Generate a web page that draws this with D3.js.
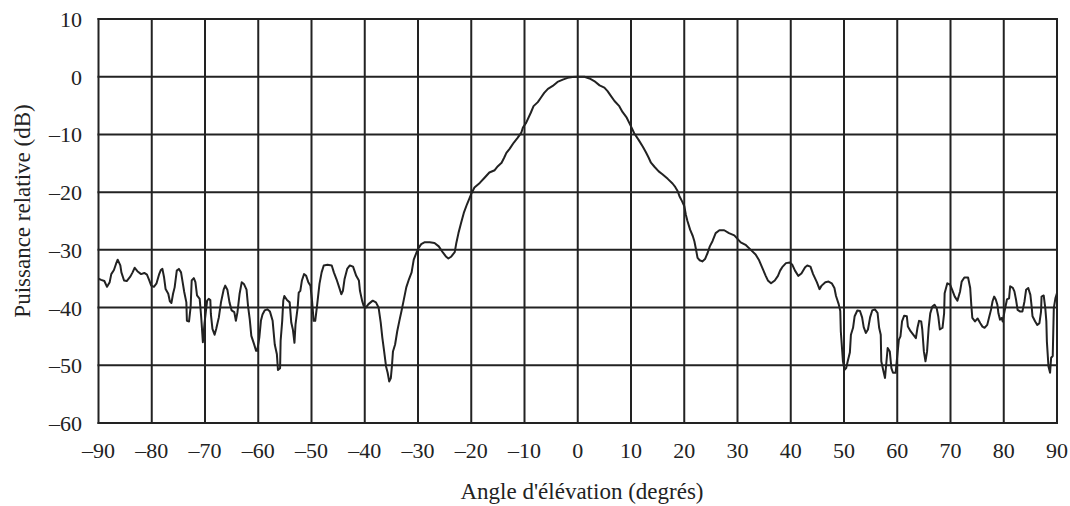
<!DOCTYPE html>
<html>
<head>
<meta charset="utf-8">
<script src="https://cdn.jsdelivr.net/npm/d3@7"></script>
<style>
    body { margin: 0; background: #fff; }
    text { font-family: "Liberation Serif", "Times New Roman", serif; fill: #222; }
</style>
</head>
<body>
<div id="chart"></div>
<script>
// angles (degrees)
var angle = [
  -90, -89.5, -88.9, -88.4, -87.9, -87.6, -87.1, -86.7, -86.4, -85.9, -85.7, -85.2, -84.7, -84.0, -83.6, -83.2,
  -82.7, -82.0, -81.4, -80.9, -80.5, -80.1, -79.6, -79.1, -78.6, -78.3, -78.0, -77.7, -77.4, -76.9, -76.6, -76.3,
  -76.0, -75.7, -75.3, -74.9, -74.5, -74.2, -73.9, -73.5, -73.4, -73.0, -72.7, -72.5, -72.1, -71.8, -71.5, -71.0,
  -70.7, -70.4, -70.1, -69.6, -69.3, -69.0, -68.9, -68.6, -68.2, -67.9, -67.4, -67.0, -66.5, -66.2, -65.8, -65.4,
  -65.0, -64.5, -64.2, -63.9, -63.5, -63.1, -62.7, -62.2, -61.9, -61.6, -61.3, -60.8, -60.4, -60.2,
  -59.8, -59.5, -59.2, -58.8, -58.3, -57.8, -57.3, -56.9, -56.5, -56.3, -55.9, -55.8, -55.5, -55.3, -55.1, -54.6,
  -54.1, -53.8, -53.5, -53.2, -53.0, -52.6, -52.4, -52.1, -51.8, -51.4, -51.0, -50.6, -50.2, -49.9, -49.6, -49.3,
  -49.0, -48.5, -48.1, -47.7, -47.0, -46.2, -45.8, -45.3, -44.8, -44.4, -44.1, -43.8, -43.3, -42.8, -42.2, -41.6,
  -41.1, -40.9, -40.5, -40.2, -39.8, -39.3, -38.5, -37.9, -37.4, -37.0, -36.7, -36.4, -36.0, -35.7, -35.4, -35.1,
  -34.9, -34.7, -34.3, -33.9, -33.5, -33.1, -32.7, -32.2, -31.7, -31.2,
  -30.8, -30.3, -29.9, -29.4, -28.8, -27.8, -26.9, -26.1, -25.3, -24.7, -24.3, -23.8, -23.1, -22.8, -22.4, -21.9,
  -21.4, -20.8, -20.3, -19.9, -19.4, -18.4, -17.5, -16.6, -15.6, -15.0, -14.3, -13.8, -13.4, -12.8, -12.0, -11.3,
  -10.6, -10.3, -9.7, -8.8, -8.3, -7.5, -6.9, -6.3, -5.6, -4.7, -3.8, -2.8, -1.9, -1.0,
  0, 1.25, 2.2, 3.1, 4.1, 5.0, 5.6, 6.25, 6.9, 7.8, 8.4, 9.2, 10.0, 10.6, 11.4, 12.2,
  12.8, 13.3, 13.75, 14.4, 15.2, 15.9, 16.9, 17.8, 18.3, 18.75, 19.1, 19.6, 20.0, 20.3, 20.6, 21.1,
  21.6, 21.9, 22.2, 22.5, 22.9, 23.4, 23.9, 24.4, 24.8, 25.3, 25.9, 26.6, 27.5, 28.4, 29.4,
  30.6, 31.6, 32.5, 33.4, 34.0, 34.6, 35.3, 35.7, 36.3, 37.0, 37.6, 38.0, 38.4, 39.1, 39.8, 40.3,
  40.8, 41.4, 42.0, 42.7, 43.1, 43.7, 44.2, 44.9, 45.4, 45.8, 46.5, 47.1, 47.7, 48.2, 48.5, 49.0,
  49.3, 49.4, 49.8, 50.1, 50.4, 50.7, 51.1, 51.3, 51.7, 52.0, 52.5, 53.0, 53.4, 53.7, 54.1, 54.5,
  54.9, 55.3, 55.8, 56.3, 56.6, 56.9, 57.0, 57.4, 57.7,
  58.2, 58.6, 58.9, 59.2, 59.7, 60.0, 60.3, 60.6, 60.9, 61.3, 61.8, 62.0, 62.5, 63.0, 63.5, 63.8,
  64.1, 64.5, 64.7, 65.0, 65.3, 65.6, 65.9, 66.2, 66.6, 67.0, 67.4, 67.7, 68.0, 68.5, 68.8, 68.9,
  69.4, 69.9, 70.3, 70.8, 71.3, 71.8, 72.1, 72.6, 73.3, 73.7, 73.9, 74.1, 74.6, 75.1, 75.6, 76.0,
  76.4, 76.9, 77.3, 77.6, 77.9, 78.2, 78.5, 78.8, 79.0, 79.3, 79.6, 79.8, 80.2, 80.6, 81.0, 81.2,
  81.7, 82.0, 82.3, 82.6, 83.1, 83.5, 83.9, 84.2, 84.6, 85.0, 85.2, 85.4, 85.9, 86.3, 86.7, 87.0,
  87.1, 87.5, 87.8, 88.0, 88.1, 88.4, 88.7, 88.9, 89.2, 89.4, 89.7, 90.0
];

// relative power (dB), same order as angle
var power = [
  -35.0, -35.2, -35.4, -36.4, -35.6, -34.2, -33.5, -32.4, -31.7, -32.7, -33.9, -35.3, -35.4, -34.6, -33.9, -33.1,
  -33.7, -34.2, -34.0, -34.3, -35.2, -36.2, -36.4, -35.8, -34.2, -33.5, -33.3, -34.7, -36.8, -37.6, -38.9, -39.2,
  -37.6, -36.5, -33.6, -33.3, -33.9, -35.6, -37.3, -39.1, -42.3, -42.4, -39.9, -35.3, -34.9, -35.6, -37.9, -38.5,
  -41.8, -46.0, -42.8, -38.8, -38.5, -38.7, -41.1, -43.7, -44.7, -43.7, -41.7, -39.1, -36.9, -36.2, -36.9, -39.1,
  -40.5, -40.8, -42.3, -40.8, -37.6, -35.6, -35.9, -36.9, -39.9, -42.0, -44.9, -46.3, -47.5, -47.5,
  -45.2, -42.3, -41.2, -40.5, -40.3, -40.7, -42.3, -46.4, -48.1, -50.8, -50.5, -45.8, -42.3, -38.8, -38.0, -38.7,
  -39.1, -42.6, -43.8, -46.1, -42.9, -40.0, -37.4, -37.1, -35.3, -34.2, -34.5, -35.6, -36.2, -38.8, -42.3, -42.3,
  -40.0, -35.9, -33.9, -32.7, -32.6, -32.7, -33.9, -35.1, -36.5, -37.7, -37.1, -35.1, -33.3, -32.7, -32.9, -34.5,
  -35.3, -37.1, -38.8, -39.7, -40.0, -39.4, -38.8, -39.1, -40.0, -42.6, -45.2, -47.3, -50.2, -51.3, -52.8, -52.2,
  -50.2, -47.6, -46.4, -44.1, -42.3, -40.6, -38.8, -36.5, -35.1, -33.9,
  -31.7, -30.5, -29.7, -29.0, -28.7, -28.7, -28.8, -29.4, -30.5, -31.2, -31.5, -31.2, -30.4, -28.8, -27.1, -25.3,
  -23.6, -22.1, -21.0, -20.1, -19.2, -18.4, -17.5, -16.6, -16.2, -15.5, -14.9, -14.0, -13.2, -12.5, -11.4, -10.6,
  -9.7, -8.8, -8.0, -6.2, -5.1, -4.4, -3.6, -2.8, -2.1, -1.6, -0.9, -0.5, -0.2, -0.05,
  0, 0, -0.3, -0.75, -1.5, -1.9, -2.5, -3.35, -4.2, -5.1, -6.1, -7.1, -8.6, -9.8, -10.9, -12.1,
  -13.1, -14.0, -14.9, -15.6, -16.4, -16.9, -17.7, -18.5, -19.1, -19.8, -20.7, -21.6, -22.4, -23.9, -25.0, -26.5,
  -27.6, -28.5, -29.9, -31.4, -31.8, -32.0, -31.6, -30.5, -29.4, -28.5, -27.1, -26.6, -26.6, -27.1, -27.5,
  -28.7, -29.2, -30.0, -30.8, -31.7, -33.0, -34.5, -35.3, -35.8, -35.3, -34.5, -33.6, -33.0, -32.3, -32.2, -32.6,
  -33.6, -34.5, -34.1, -33.0, -32.7, -32.9, -34.2, -35.6, -36.8, -36.2, -35.6, -35.5, -35.8, -36.6, -38.0, -39.4,
  -40.6, -44.1, -49.3, -50.8, -50.5, -49.3, -47.8, -44.7, -43.5, -41.5, -40.5, -40.6, -41.7, -43.4, -44.4, -43.8,
  -41.7, -40.5, -40.3, -40.9, -43.5, -44.7, -49.3, -51.0, -52.2,
  -47.0, -47.6, -50.5, -51.3, -51.3, -48.4, -45.6, -45.0, -42.4, -41.4, -41.5, -43.3, -44.1, -44.7, -45.3, -43.5,
  -42.3, -42.4, -43.8, -47.6, -49.3, -47.6, -43.5, -41.0, -39.8, -39.5, -40.1, -41.5, -43.8, -43.5, -41.0, -37.5,
  -35.8, -36.0, -36.9, -38.1, -38.8, -37.2, -35.5, -34.8, -34.8, -36.6, -39.5, -41.8, -42.4, -41.9, -42.7, -43.3,
  -43.5, -43.0, -41.5, -40.4, -38.9, -38.1, -38.6, -39.5, -41.0, -42.1, -41.8, -42.4, -40.4, -38.6, -38.4, -36.3,
  -36.6, -37.2, -38.6, -40.4, -40.7, -40.7, -38.9, -36.9, -36.6, -37.8, -39.5, -41.5, -42.4, -43.0, -42.7, -40.7,
  -38.1, -37.9, -40.1, -42.4, -45.9, -50.2, -51.3, -48.7, -48.4, -40.1, -38.4, -37.5
];

var xTicks = [-90, -80, -70, -60, -50, -40, -30, -20, -10, 0, 10, 20, 30, 40, 50, 60, 70, 80, 90];
var yTicks = [10, 0, -10, -20, -30, -40, -50, -60];

var xTitle = "Angle d'élévation (degrés)";
var yTitle = "Puissance relative (dB)";

var W = 1070, H = 506;
var plotLeft = 98.5, plotRight = 1057, plotTop = 19, plotBottom = 423;

var svg = d3.select("#chart").append("svg")
    .attr("width", W)
    .attr("height", H);

var x = d3.scaleLinear().domain([-90, 90]).range([plotLeft, plotRight]);
var y = d3.scaleLinear().domain([-60, 10]).range([plotBottom, plotTop]);

var fmt = function (d) { return String(d).replace("-", "\u2013"); };

// grid
svg.append("g").selectAll("line")
    .data(xTicks)
    .enter().append("line")
    .attr("x1", d => x(d)).attr("x2", d => x(d))
    .attr("y1", plotTop - 1).attr("y2", plotBottom + 1)
    .attr("stroke", "#222").attr("stroke-width", 2);

svg.append("g").selectAll("line")
    .data(yTicks)
    .enter().append("line")
    .attr("x1", plotLeft - 1).attr("x2", plotRight + 1)
    .attr("y1", d => y(d)).attr("y2", d => y(d))
    .attr("stroke", "#222").attr("stroke-width", 2);

// tick labels
svg.append("g").selectAll("text")
    .data(xTicks)
    .enter().append("text")
    .attr("x", d => x(d))
    .attr("y", 458)
    .attr("text-anchor", "middle")
    .style("font-size", "22px")
    .text(fmt);

svg.append("g").selectAll("text")
    .data(yTicks)
    .enter().append("text")
    .attr("x", 82)
    .attr("y", d => y(d) + 8)
    .attr("text-anchor", "end")
    .style("font-size", "22px")
    .text(fmt);

// titles
svg.append("text")
    .attr("x", 582)
    .attr("y", 499)
    .attr("text-anchor", "middle")
    .style("font-size", "23px")
    .text(xTitle);

svg.append("text")
    .attr("transform", "translate(30,211) rotate(-90)")
    .attr("text-anchor", "middle")
    .style("font-size", "23px")
    .text(yTitle);

// curve
var pts = angle.map((a, i) => [a, power[i]]);
var line = d3.line()
    .x(d => x(d[0]))
    .y(d => y(d[1]));

svg.append("path")
    .datum(pts)
    .attr("fill", "none")
    .attr("stroke", "#222")
    .attr("stroke-width", 2)
    .attr("stroke-linejoin", "round")
    .attr("d", line);
</script>
</body>
</html>
